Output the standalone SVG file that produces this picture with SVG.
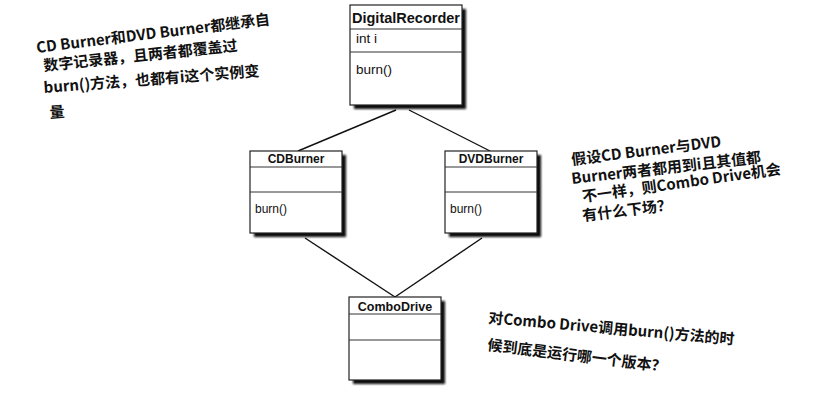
<svg xmlns="http://www.w3.org/2000/svg" width="840" height="412" viewBox="0 0 840 412">
<defs>
  <filter id="blur" x="-10%" y="-10%" width="130%" height="130%">
    <feGaussianBlur stdDeviation="0.9"/>
  </filter>
  <style>
    .box{fill:#fff;stroke:#222;stroke-width:1.2}
    .shadow{fill:#111;filter:url(#blur)}
    .sep{stroke:#333;stroke-width:1}
    .title{font-family:"Liberation Sans",Arial,sans-serif;font-weight:bold;fill:#111;text-anchor:middle}
    .mem{font-family:"Liberation Sans",Arial,sans-serif;fill:#111}
    .conn{stroke:#111;stroke-width:1.4;fill:none}
    .note{font-family:"Noto Sans CJK SC","Noto Sans",sans-serif;font-weight:700;font-size:15px;fill:#111}
  </style>
</defs>
<rect width="840" height="412" fill="#fff"/>

<g id="connectors">
  <line class="conn" x1="396" y1="110" x2="298" y2="151"/>
  <line class="conn" x1="409" y1="110" x2="490" y2="151"/>
  <line class="conn" x1="305" y1="238" x2="395" y2="297"/>
  <line class="conn" x1="482" y1="238" x2="395" y2="297"/>
</g>

<g id="DigitalRecorder">
  <rect class="shadow" x="354" y="9" width="112" height="100"/>
  <rect class="box" x="350" y="5" width="112" height="100"/>
  <line class="sep" x1="350" y1="29" x2="462" y2="29"/>
  <line class="sep" x1="350" y1="52" x2="462" y2="52"/>
  <text class="title" x="406" y="23" font-size="14.5">DigitalRecorder</text>
  <text class="mem" x="356" y="43" font-size="13.5">int i</text>
  <text class="mem" x="356" y="74" font-size="13.5">burn()</text>
</g>

<g id="CDBurner">
  <rect class="shadow" x="254" y="155" width="92" height="82"/>
  <rect class="box" x="250" y="151" width="92" height="82"/>
  <line class="sep" x1="250" y1="167" x2="342" y2="167"/>
  <line class="sep" x1="250" y1="192" x2="342" y2="192"/>
  <text class="title" x="296" y="163" font-size="12">CDBurner</text>
  <text class="mem" x="255" y="213" font-size="12">burn()</text>
</g>

<g id="DVDBurner">
  <rect class="shadow" x="449" y="155" width="92" height="82"/>
  <rect class="box" x="445" y="151" width="92" height="82"/>
  <line class="sep" x1="445" y1="167" x2="537" y2="167"/>
  <line class="sep" x1="445" y1="192" x2="537" y2="192"/>
  <text class="title" x="491" y="163" font-size="12">DVDBurner</text>
  <text class="mem" x="450" y="213" font-size="12">burn()</text>
</g>

<g id="ComboDrive">
  <rect class="shadow" x="353" y="301" width="92" height="83"/>
  <rect class="box" x="349" y="297" width="92" height="83"/>
  <line class="sep" x1="349" y1="314" x2="441" y2="314"/>
  <line class="sep" x1="349" y1="340" x2="441" y2="340"/>
  <text class="title" x="395" y="311" font-size="12.5">ComboDrive</text>
</g>

<g id="note-left">
  <text class="note" x="37" y="53" transform="rotate(-7 37 53)">CD Burner和DVD Burner都继承自</text>
  <text class="note" x="44" y="71" transform="rotate(-6 44 71)">数字记录器，且两者都覆盖过</text>
  <text class="note" x="44" y="93" transform="rotate(-4.5 44 93)">burn()方法，也都有i这个实例变</text>
  <text class="note" x="50" y="118" transform="rotate(-4.5 50 118)">量</text>
</g>

<g id="note-right">
  <text class="note" x="572" y="165" transform="rotate(-7 572 165)">假设CD Burner与DVD</text>
  <text class="note" x="572" y="184" transform="rotate(-6.5 572 184)">Burner两者都用到i且其值都</text>
  <text class="note" x="583" y="202" transform="rotate(-8 583 202)">不一样，则Combo Drive机会</text>
  <text class="note" x="583" y="221" transform="rotate(-7 583 221)">有什么下场？</text>
</g>

<g id="note-bottom">
  <text class="note" x="488" y="323" transform="rotate(5 488 323)">对Combo Drive调用burn()方法的时</text>
  <text class="note" x="487" y="350" transform="rotate(7 487 350)">候到底是运行哪一个版本？</text>
</g>
</svg>
